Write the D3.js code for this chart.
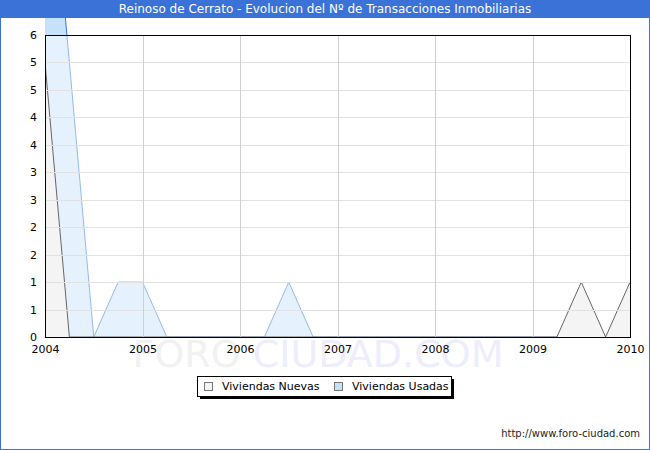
<!DOCTYPE html>
<html>
<head>
<meta charset="utf-8">
<script src="https://cdn.jsdelivr.net/npm/d3@7"></script>
<style>
  body { margin: 0; background: #fff; }
  text { font-family: "DejaVu Sans", Verdana, sans-serif; }
</style>
</head>
<body>
<div id="chart"></div>
<script>
var titleText = "Reinoso de Cerrato - Evolucion del Nº de Transacciones Inmobiliarias";

// quarters 2004 T1 .. 2010 T1
var periods = ["2004T1","2004T2","2004T3","2004T4",
               "2005T1","2005T2","2005T3","2005T4",
               "2006T1","2006T2","2006T3","2006T4",
               "2007T1","2007T2","2007T3","2007T4",
               "2008T1","2008T2","2008T3","2008T4",
               "2009T1","2009T2","2009T3","2009T4",
               "2010T1"];
var nuevas = [5,0,0,0, 0,0,0,0, 0,0,0,0, 0,0,0,0, 0,0,0,0, 0,0,1,0, 1];
var usadas = [10,5,0,1, 1,0,0,0, 0,0,1,0, 0,0,0,0, 0,0,0,0, 0,0,0,0, 0];
var yearLabels = ["2004","2005","2006","2007","2008","2009","2010"];
var yTicks = [0,0.5,1,1.5,2,2.5,3,3.5,4,4.5,5,5.5];
var seriesNames = ["Viviendas Nuevas", "Viviendas Usadas"];

var W = 650, H = 450;
var plot = {left: 45, right: 630, top: 35, bottom: 337};

function periodValue(p) {
    return +p.slice(0, 4) + (+p.slice(5) - 1) / 4;
}

var x = d3.scaleLinear()
    .domain([+yearLabels[0], +yearLabels[yearLabels.length - 1]])
    .range([plot.left, plot.right]);

var y = d3.scaleLinear()
    .domain([0, yTicks[yTicks.length - 1]])
    .range([plot.bottom, plot.top]);

var svg = d3.select("#chart").append("svg")
    .attr("width", W)
    .attr("height", H);

svg.append("rect")
    .attr("width", W).attr("height", H)
    .attr("fill", "#fff");

// title bar
svg.append("rect")
    .attr("x", 0).attr("y", 0)
    .attr("width", W).attr("height", 18)
    .attr("fill", "#3a72d8");

svg.append("text")
    .attr("x", W / 2).attr("y", 13)
    .attr("text-anchor", "middle")
    .attr("fill", "#fff")
    .style("font-size", "12px")
    .text(titleText);

// watermark
var wm = svg.append("text")
    .attr("x", 318).attr("y", 367)
    .attr("text-anchor", "middle")
    .style("font-size", "38px");
wm.append("tspan").attr("fill", "#f1f1f1").text("FORO ");
wm.append("tspan").attr("fill", "#ededfb").text("CIUDAD.COM");

var defs = svg.append("defs");
defs.append("clipPath").attr("id", "clipPlot")
    .append("rect")
    .attr("x", plot.left).attr("y", plot.top)
    .attr("width", plot.right - plot.left)
    .attr("height", plot.bottom - plot.top);
defs.append("clipPath").attr("id", "clipAbove")
    .append("rect")
    .attr("x", plot.left).attr("y", 18)
    .attr("width", plot.right - plot.left)
    .attr("height", plot.top - 18);

var area = function (vals) {
    return d3.area()
        .x(function (d, i) { return x(periodValue(periods[i])); })
        .y0(y(0))
        .y1(function (d) { return y(d); })(vals);
};
var line = function (vals) {
    return d3.line()
        .x(function (d, i) { return x(periodValue(periods[i])); })
        .y(function (d) { return y(d); })(vals);
};

// part of the series that goes above the plot
var above = svg.append("g").attr("clip-path", "url(#clipAbove)");
above.append("path").attr("d", area(usadas)).attr("fill", "#c6e2fa");
above.append("path").attr("d", line(usadas))
    .attr("fill", "none").attr("stroke", "#3a72d8").attr("stroke-width", 1);

var g = svg.append("g").attr("clip-path", "url(#clipPlot)");

g.append("path").attr("d", area(usadas)).attr("fill", "#e5f1fd");
g.append("path").attr("d", line(usadas))
    .attr("fill", "none").attr("stroke", "#94b9ee").attr("stroke-width", 1);

g.append("path").attr("d", area(nuevas)).attr("fill", "#f4f4f4");
g.append("path").attr("d", line(nuevas))
    .attr("fill", "none").attr("stroke", "#666").attr("stroke-width", 1);

// grid
svg.append("g").selectAll("line")
    .data(yTicks.slice(1))
    .enter().append("line")
    .attr("x1", plot.left).attr("x2", plot.right)
    .attr("y1", function (d) { return Math.round(y(d)) + 0.5; })
    .attr("y2", function (d) { return Math.round(y(d)) + 0.5; })
    .attr("stroke", "#e2e2e2");

svg.append("g").selectAll("line")
    .data(yearLabels.slice(1, -1))
    .enter().append("line")
    .attr("x1", function (d) { return Math.round(x(+d)) + 0.5; })
    .attr("x2", function (d) { return Math.round(x(+d)) + 0.5; })
    .attr("y1", plot.top).attr("y2", plot.bottom)
    .attr("stroke", "#cfcfcf");

// frame
svg.append("rect")
    .attr("x", plot.left + 0.5).attr("y", plot.top + 0.5)
    .attr("width", plot.right - plot.left)
    .attr("height", plot.bottom - plot.top)
    .attr("fill", "none")
    .attr("stroke", "#000");

// axes labels
var yAxis = d3.axisLeft(y)
    .tickValues(yTicks)
    .tickSize(0)
    .tickPadding(8)
    .tickFormat(function (d) { return Math.round(d); });
svg.append("g")
    .attr("transform", "translate(" + plot.left + ",0)")
    .call(yAxis)
    .call(function (s) { s.select(".domain").remove(); })
    .selectAll("text")
    .attr("fill", "#000")
    .style("font-size", "11px")
    .style("font-family", "DejaVu Sans");

var xAxis = d3.axisBottom(x)
    .tickValues(yearLabels.map(Number))
    .tickSize(0)
    .tickPadding(8)
    .tickFormat(d3.format("d"));
svg.append("g")
    .attr("transform", "translate(0," + plot.bottom + ")")
    .call(xAxis)
    .call(function (s) { s.select(".domain").remove(); })
    .selectAll("text")
    .attr("fill", "#000")
    .style("font-size", "11px")
    .style("font-family", "DejaVu Sans");

// legend
var lg = svg.append("g");
lg.append("rect")
    .attr("x", 200).attr("y", 379)
    .attr("width", 254).attr("height", 20)
    .attr("fill", "#000");
lg.append("rect")
    .attr("x", 197.5).attr("y", 376.5)
    .attr("width", 254).attr("height", 20)
    .attr("fill", "#fff").attr("stroke", "#000");

var legendFill = ["#f4f4f4", "#c6e2fa"];
var legendStroke = ["#777", "#777"];
var legendX = [204, 334];
seriesNames.forEach(function (name, i) {
    lg.append("rect")
        .attr("x", legendX[i] + 0.5).attr("y", 382.5)
        .attr("width", 8).attr("height", 8)
        .attr("fill", legendFill[i]).attr("stroke", legendStroke[i]);
    lg.append("text")
        .attr("x", legendX[i] + 18).attr("y", 390)
        .style("font-size", "11px")
        .attr("fill", "#000")
        .text(name);
});

// url
svg.append("text")
    .attr("x", 640).attr("y", 437)
    .attr("text-anchor", "end")
    .style("font-size", "10px")
    .attr("fill", "#222")
    .text("http://www.foro-ciudad.com");

// outer border
svg.append("rect")
    .attr("x", 0.5).attr("y", 0.5)
    .attr("width", W - 1).attr("height", H - 1)
    .attr("fill", "none")
    .attr("stroke", "#3a72d8");
</script>
</body>
</html>
